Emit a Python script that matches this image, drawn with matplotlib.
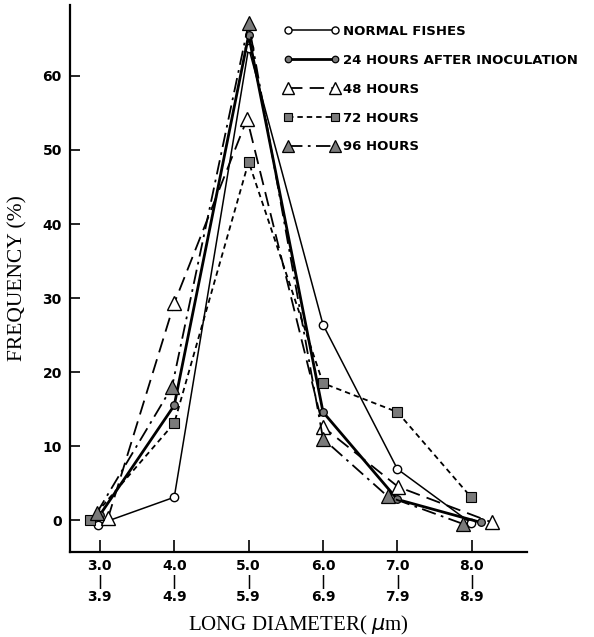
import matplotlib
matplotlib.use("Agg")
import matplotlib.pyplot as plt

# Klassen des Langdurchmessers (um)
klassen_von = ["3.0", "4.0", "5.0", "6.0", "7.0", "8.0"]
klassen_bis = ["3.9", "4.9", "5.9", "6.9", "7.9", "8.9"]
x_klassen = [3, 4, 5, 6, 7, 8]

# Haeufigkeit (%) je Gruppe, x leicht versetzt wie in der Vorlage
x_normal = [2.97, 4.0, 5.0, 6.0, 7.0, 7.99]
y_normal = [-0.6, 3.1, 63.8, 26.4, 6.9, -0.4]

x_24h = [3.0, 4.0, 5.0, 6.0, 7.0, 8.12]
y_24h = [0.7, 15.5, 65.5, 14.6, 2.8, -0.3]

x_48h = [3.11, 4.0, 4.98, 6.0, 7.01, 8.27]
y_48h = [0.3, 29.3, 54.2, 12.6, 4.5, -0.3]

x_72h = [2.87, 4.0, 5.0, 6.0, 7.0, 7.99]
y_72h = [0.0, 13.1, 48.4, 18.5, 14.6, 3.1]

x_96h = [2.96, 3.97, 5.0, 6.0, 6.87, 7.88]
y_96h = [1.0, 18.0, 67.1, 11.0, 3.2, -0.5]

grau = "#7a7a7a"

fig = plt.figure(figsize=(5.94, 6.37), dpi=100)
ax = fig.add_axes([0.118, 0.1334, 0.769, 0.859])

ax.plot(x_normal, y_normal, color="black", lw=1.1, marker="o", ms=6,
        mfc="white", mec="black", mew=1.0, label="NORMAL FISHES")
ax.plot(x_24h, y_24h, color="black", lw=2.0, marker="o", ms=5.5,
        mfc=grau, mec="black", mew=0.9, label="24 HOURS AFTER INOCULATION")
ax.plot(x_48h, y_48h, color="black", lw=1.3, dashes=(8, 4), marker="^", ms=10,
        mfc="white", mec="black", mew=1.0, label="48 HOURS")
ax.plot(x_72h, y_72h, color="black", lw=1.3, dashes=(3, 2.2), marker="s", ms=7,
        mfc=grau, mec="black", mew=0.8, label="72 HOURS")
ax.plot(x_96h, y_96h, color="black", lw=1.3, dashes=(8, 3, 1.5, 3), marker="^", ms=10,
        mfc=grau, mec="black", mew=0.9, label="96 HOURS")

ax.set_xlim(2.6, 8.74)
ax.set_ylim(-4.3, 69.6)

for s in ["top", "right"]:
    ax.spines[s].set_visible(False)
for s in ["left", "bottom"]:
    ax.spines[s].set_linewidth(1.6)

ax.set_yticks([0, 10, 20, 30, 40, 50, 60])
ax.set_yticklabels(["0", "10", "20", "30", "40", "50", "60"],
                   fontweight="bold", fontsize=10)
ax.set_xticks(x_klassen)
ax.set_xticklabels([a + "\n|\n" + b for a, b in zip(klassen_von, klassen_bis)],
                   fontweight="bold", fontsize=10, linespacing=1.15)
ax.tick_params(axis="y", direction="in", length=7, width=1.2, pad=6)
ax.tick_params(axis="x", direction="in", length=9, width=1.2, pad=5)

ax.set_ylabel("FREQUENCY (%)", family="Liberation Serif", fontsize=15.5, labelpad=11)
ax.set_xlabel("LONG DIAMETER( $\\mu$m)", family="Liberation Serif", fontsize=15, labelpad=7)

leg = ax.legend(loc="upper left", bbox_to_anchor=(0.455, 0.975), frameon=False,
                numpoints=2, handlelength=4.1, handletextpad=0.35,
                labelspacing=1.2, borderpad=0, markerscale=0.85,
                prop={"weight": "bold", "size": 9.5})

fig.savefig("out.png", dpi=100)
